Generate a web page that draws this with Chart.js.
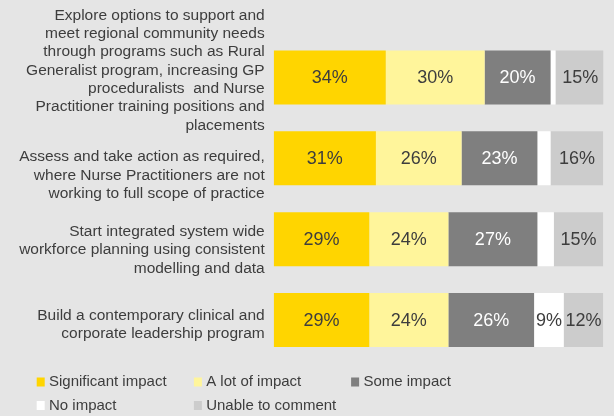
<!DOCTYPE html>
<html>
<head>
<meta charset="utf-8">
<script src="https://cdn.jsdelivr.net/npm/chart.js@4/dist/chart.umd.min.js"></script>
<style>
  html, body { margin: 0; padding: 0; background: #e5e5e5; }
  #wrap { width: 614px; height: 416px; position: relative; }
</style>
</head>
<body>
<div id="wrap"><canvas id="c" width="614" height="416"></canvas></div>
<script>
// Initiatives (one bar each), with their wrapped label lines
const categories = [
  ["Explore options to support and", "meet regional community needs", "through programs such as Rural",
   "Generalist program, increasing GP", "proceduralists  and Nurse", "Practitioner training positions and", "placements"],
  ["Assess and take action as required,", "where Nurse Practitioners are not", "working to full scope of practice"],
  ["Start integrated system wide", "workforce planning using consistent", "modelling and data"],
  ["Build a contemporary clinical and", "corporate leadership program"]
];

// Share of responses (%) per initiative
const significantImpact = [34, 31, 29, 29];
const aLotOfImpact      = [30, 26, 24, 24];
const someImpact        = [20, 23, 27, 26];
const noImpact          = [1.5, 4, 5, 9];
const unableToComment   = [15, 16, 15, 12];

const seriesNames = ["Significant impact", "A lot of impact", "Some impact", "No impact", "Unable to comment"];
const seriesColors = ["#ffd500", "#fff59b", "#7f7f7f", "#ffffff", "#cccccc"];
const seriesValues = [significantImpact, aLotOfImpact, someImpact, noImpact, unableToComment];

const TEXT = "#3d3d3d";
const FONT = "'Liberation Sans', Arial, sans-serif";

// Vertical nudge of each category label block relative to its bar centre
const labelShift = [-7, 17, 11, 5];

const labelsPlugin = {
  id: "labels",
  afterDatasetsDraw(chart) {
    const ctx = chart.ctx;
    ctx.save();
    ctx.font = "18px " + FONT;
    ctx.textAlign = "center";
    ctx.textBaseline = "middle";
    chart.data.datasets.forEach((ds, di) => {
      const meta = chart.getDatasetMeta(di);
      meta.data.forEach((bar, i) => {
        const v = ds.data[i];
        if (v < 8) return;
        const cx = (bar.base + bar.x) / 2;
        ctx.fillStyle = di === 2 ? "#ffffff" : TEXT;
        ctx.fillText(Math.round(v) + "%", cx, bar.y + 1);
      });
    });
    ctx.restore();
  },
  afterDraw(chart) {
    const ctx = chart.ctx;
    const area = chart.chartArea;
    const yScale = chart.scales.y;
    ctx.save();
    // category labels
    ctx.font = "15.5px " + FONT;
    ctx.fillStyle = TEXT;
    ctx.textAlign = "right";
    ctx.textBaseline = "middle";
    const lh = 18.3;
    categories.forEach((lines, i) => {
      const cy = yScale.getPixelForValue(i) + labelShift[i];
      lines.forEach((ln, k) => {
        ctx.fillText(ln, area.left - 9, cy + (k - (lines.length - 1) / 2) * lh);
      });
    });
    // legend in a 3-column grid
    ctx.font = "15px " + FONT;
    ctx.textAlign = "left";
    const x0 = 36.7, colW = 157.2, y0 = 382, rowH = 23.5;
    chart.data.datasets.forEach((ds, di) => {
      const col = di % 3, row = Math.floor(di / 3);
      const x = x0 + col * colW, y = y0 + row * rowH;
      ctx.fillStyle = ds.backgroundColor;
      ctx.fillRect(x, y - 4.5, 8, 9);
      ctx.fillStyle = TEXT;
      ctx.fillText(ds.label, x + 12.3, y);
    });
    ctx.restore();
  }
};

new Chart(document.getElementById("c"), {
  type: "bar",
  data: {
    labels: categories.map(l => l.join(" ")),
    datasets: seriesNames.map((name, i) => ({
      label: name,
      data: seriesValues[i],
      backgroundColor: seriesColors[i],
      borderWidth: 0,
      barPercentage: 1,
      categoryPercentage: 0.667
    }))
  },
  options: {
    indexAxis: "y",
    responsive: false,
    animation: false,
    layout: { padding: { left: 273.7, right: 10.7, top: 37, bottom: 55.5 } },
    scales: {
      x: { stacked: true, min: 0, max: 100, display: false },
      y: { stacked: true, display: false }
    },
    plugins: {
      legend: { display: false },
      tooltip: { enabled: false }
    }
  },
  plugins: [labelsPlugin]
});
</script>
</body>
</html>
